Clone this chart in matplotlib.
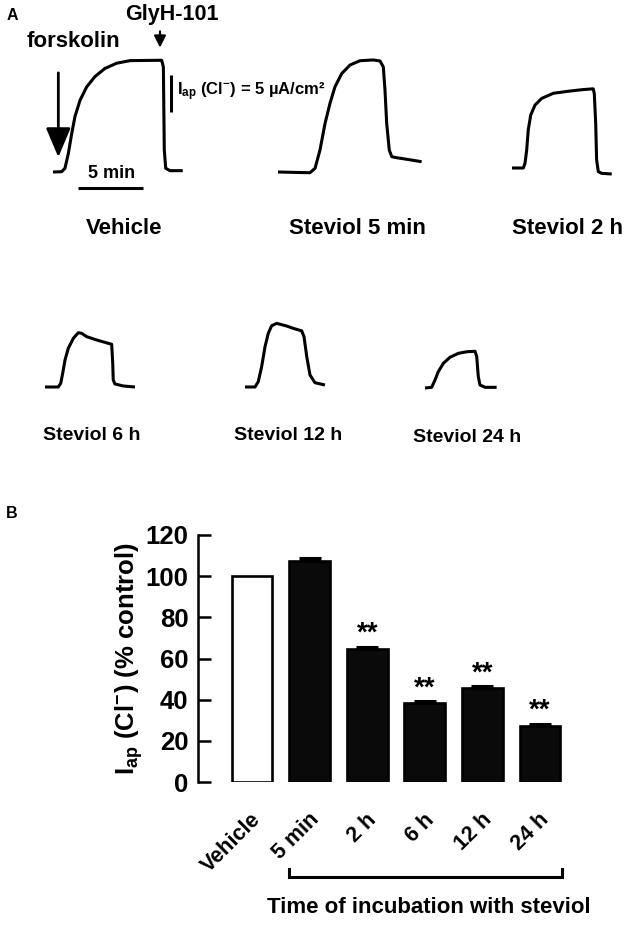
import matplotlib
matplotlib.use('Agg')
import matplotlib.pyplot as plt
from matplotlib.transforms import ScaledTranslation

plt.rcParams['font.family'] = ['Liberation Sans', 'DejaVu Sans']
plt.rcParams['font.weight'] = 'bold'
plt.rcParams['mathtext.fontset'] = 'custom'
plt.rcParams['mathtext.rm'] = 'Liberation Sans:bold'
plt.rcParams['mathtext.it'] = 'Liberation Sans:bold'
plt.rcParams['mathtext.bf'] = 'Liberation Sans:bold'

# ---------------- Panel A: short-circuit current traces ----------------
# time (min) and current (uA/cm^2)
vehicle_t = [0, 0.67, 0.92, 1.18, 1.44, 1.69, 2.08, 2.59, 3.23, 4.0, 4.9, 5.92, 8.36, 8.49, 8.56, 8.67, 9.0, 9.98]
vehicle_i = [0, 0.04, 0.5, 2.5, 5.2, 7.5, 9.7, 11.5, 12.9, 14.0, 14.7, 15.05, 15.1, 14.2, 3.0, 0.5, 0.18, 0.18]

st5min_t = [0, 2.46, 2.85, 3.23, 3.62, 4.0, 4.38, 4.9, 5.54, 6.31, 7.33, 7.85, 8.1, 8.23, 8.36, 8.56, 8.75, 9.13, 9.9, 11.05]
st5min_i = [0, -0.1, 0.5, 2.97, 6.58, 9.28, 11.5, 13.3, 14.46, 15.04, 15.14, 15.0, 14.2, 11.08, 6.58, 2.97, 2.07, 1.93, 1.72, 1.39]

st2h_t = [0, 0.87, 1.0, 1.13, 1.25, 1.44, 1.77, 2.28, 3.18, 4.46, 5.49, 6.25, 6.33, 6.44, 6.51, 6.64, 6.9, 7.67]
st2h_i = [0, 0, 0.63, 2.43, 5.14, 7.16, 8.5, 9.4, 10.1, 10.4, 10.6, 10.7, 10.05, 5.97, 1.08, -0.5, -0.72, -0.81]

st6h_t = [0, 1.02, 1.21, 1.36, 1.54, 1.79, 2.18, 2.56, 2.82, 3.21, 3.98, 5.13, 5.21, 5.25, 5.38, 6.02, 6.92]
st6h_i = [0, 0, 0.5, 1.85, 3.65, 5.23, 6.58, 7.34, 7.25, 6.8, 6.35, 5.77, 3.2, 0.95, 0.41, 0.14, 0]

st12h_t = [0, 0.77, 1.02, 1.28, 1.54, 1.79, 2.05, 2.44, 3.21, 3.72, 4.36, 4.54, 4.75, 5.0, 5.38, 6.15]
st12h_i = [0, 0, 0.72, 2.74, 5.45, 7.25, 8.28, 8.6, 8.24, 7.92, 7.59, 6.8, 4.1, 1.62, 0.58, 0.27]

st24h_t = [0, 0.51, 0.77, 1.02, 1.41, 1.92, 2.56, 3.21, 3.85, 3.98, 4.1, 4.23, 4.62, 5.51]
st24h_i = [0, 0.09, 1.08, 2.2, 3.33, 4.15, 4.68, 4.9, 4.96, 4.23, 1.53, 0.41, 0.09, 0.09]

trace_labels = ['Vehicle', 'Steviol 5 min', 'Steviol 2 h', 'Steviol 6 h', 'Steviol 12 h', 'Steviol 24 h']
traces = [(vehicle_t, vehicle_i), (st5min_t, st5min_i), (st2h_t, st2h_i),
          (st6h_t, st6h_i), (st12h_t, st12h_i), (st24h_t, st24h_i)]

# ---------------- Panel B: bar chart ----------------
categories = ['Vehicle', '5 min', '2 h', '6 h', '12 h', '24 h']
means = [100, 107.5, 64.5, 38.2, 45.5, 27.3]
sems = [0, 1.5, 1.2, 1.0, 1.0, 1.0]
significance = ['', '', '**', '**', '**', '**']
yticks = [0, 20, 40, 60, 80, 100, 120]

# ---------------- layout ----------------
W, H = 642, 925
fig = plt.figure(figsize=(W / 100, H / 100), dpi=100)

PX_PER_MIN = 13.0
PX_PER_UA = 7.4
T0, T1 = -1.0, 12.0
I0, I1 = -3.0, 18.0

# pixel position (left, top) of the trace origin (t=0, I=0)
origins = [(53, 172), (278, 172), (512, 168), (45, 387), (245, 387), (425, 388)]
label_pos = [(124, 228, 16), (357, 228, 16), (567, 228, 16),
             (92, 435, 14), (288, 435, 14), (467, 437, 14)]


def trace_axes(x0, y0):
    left = (x0 + T0 * PX_PER_MIN) / W
    width = (T1 - T0) * PX_PER_MIN / W
    bottom = 1 - (y0 - I0 * PX_PER_UA) / H
    height = (I1 - I0) * PX_PER_UA / H
    ax = fig.add_axes([left, bottom, width, height])
    ax.set_xlim(T0, T1)
    ax.set_ylim(I0, I1)
    ax.axis('off')
    return ax


trace_axs = []
for (t, i), (x0, y0) in zip(traces, origins):
    ax = trace_axes(x0, y0)
    ax.plot(t, i, color='black', lw=2.2, solid_joinstyle='round',
            solid_capstyle='butt', clip_on=False)
    trace_axs.append(ax)

for lab, (x, y, fs) in zip(trace_labels, label_pos):
    fig.text(x / W, 1 - y / H, lab, ha='center', va='center', fontsize=fs,
             fontweight='bold')

axv = trace_axs[0]
# forskolin arrow
axv.annotate('', xy=(0.41, 2.0), xytext=(0.41, 13.4),
             arrowprops=dict(arrowstyle='-|>,head_length=0.9,head_width=0.38',
                             lw=2.0, color='black', mutation_scale=20,
                             shrinkA=0, shrinkB=0),
             annotation_clip=False)
axv.text(1.58, 17.7, 'forskolin', ha='center', va='center', fontsize=16,
         fontweight='bold')
# GlyH-101 arrow
axv.annotate('', xy=(8.23, 16.8), xytext=(8.23, 19.0),
             arrowprops=dict(arrowstyle='-|>,head_length=0.5,head_width=0.25',
                             lw=1.6, color='black', mutation_scale=14,
                             shrinkA=0, shrinkB=0),
             annotation_clip=False)
axv.text(9.13, 21.3, 'GlyH-101', ha='center', va='center', fontsize=15.5,
         fontweight='bold')
# scale bars
axv.plot([1.9, 6.9], [-2.2, -2.2], color='black', lw=2.2, clip_on=False,
         solid_capstyle='butt')
axv.text(4.5, -0.2, '5 min', ha='center', va='center', fontsize=13,
         fontweight='bold')
axv.plot([9.08, 9.08], [8.1, 13.1], color='black', lw=2.2, clip_on=False,
         solid_capstyle='butt')
axv.text(9.55, 10.9, r'$\mathrm{I_{ap}}$ (Cl$^{-}$) = 5 µA/cm²', ha='left',
         va='center', fontsize=12, fontweight='bold')

fig.text(12 / W, 1 - 15 / H, 'A', ha='center', va='center', fontsize=11.5,
         fontweight='bold')
fig.text(12 / W, 1 - 513 / H, 'B', ha='center', va='center', fontsize=11.5,
         fontweight='bold')

# ---------------- Panel B axes ----------------
SP = 57.6  # px per category
x_left_px, x_zero_px = 198, 252
xmin = -(x_zero_px - x_left_px) / SP
xmax = 5.6
axb_left = x_left_px / W
axb_width = (xmax - xmin) * SP / W
axb_bottom = 1 - 782 / H
axb_height = (782 - 535) / H
axb = fig.add_axes([axb_left, axb_bottom, axb_width, axb_height])

pos = list(range(len(categories)))
faces = ['white'] + ['#0a0a0a'] * (len(categories) - 1)
axb.bar(pos, means, width=0.71, color=faces, edgecolor='black', linewidth=1.9,
        zorder=2)
axb.errorbar(pos[1:], means[1:], yerr=[[0] * 5, sems[1:]], fmt='none',
             ecolor='black', elinewidth=2.0, capsize=8, capthick=2.2, zorder=3)
for p, m, s, sig in zip(pos, means, sems, significance):
    if sig:
        axb.text(p, m + s + 2.8, sig, ha='center', va='baseline', fontsize=20,
                 fontweight='bold')

axb.set_xlim(xmin, xmax)
axb.set_ylim(0, 120)
axb.set_yticks(yticks)
axb.set_yticklabels([str(v) for v in yticks], fontsize=18.5, fontweight='bold')
axb.tick_params(axis='y', direction='in', length=9.5, width=1.8, pad=7)
axb.tick_params(axis='x', length=0, pad=25)
for side in ['top', 'right', 'bottom']:
    axb.spines[side].set_visible(False)
axb.spines['left'].set_linewidth(1.8)
axb.set_xticks(pos)
axb.set_xticklabels(categories, rotation=45, ha='right', va='center',
                    rotation_mode='anchor', fontsize=15.5, fontweight='bold')
for lbl in axb.get_xticklabels():
    lbl.set_transform(lbl.get_transform() + ScaledTranslation(0.06, 0, fig.dpi_scale_trans))

axb.set_ylabel(r'$\mathrm{I_{ap}}$ (Cl$^{-}$) (% control)', fontsize=18.5,
               fontweight='bold')
axb.yaxis.set_label_coords(-0.14, 0.5)

# bracket under steviol groups
bl, br = 1 - 0.355, 5 + 0.39
axb.plot([bl, bl, br, br], [-42.3, -46.2, -46.2, -42.3], color='black', lw=2.2,
         clip_on=False, solid_joinstyle='miter')
axb.text((bl + br) / 2 + 0.05, -61.2, 'Time of incubation with steviol',
         ha='center', va='center', fontsize=16, fontweight='bold')

fig.savefig('out.png', dpi=100, facecolor='white')
